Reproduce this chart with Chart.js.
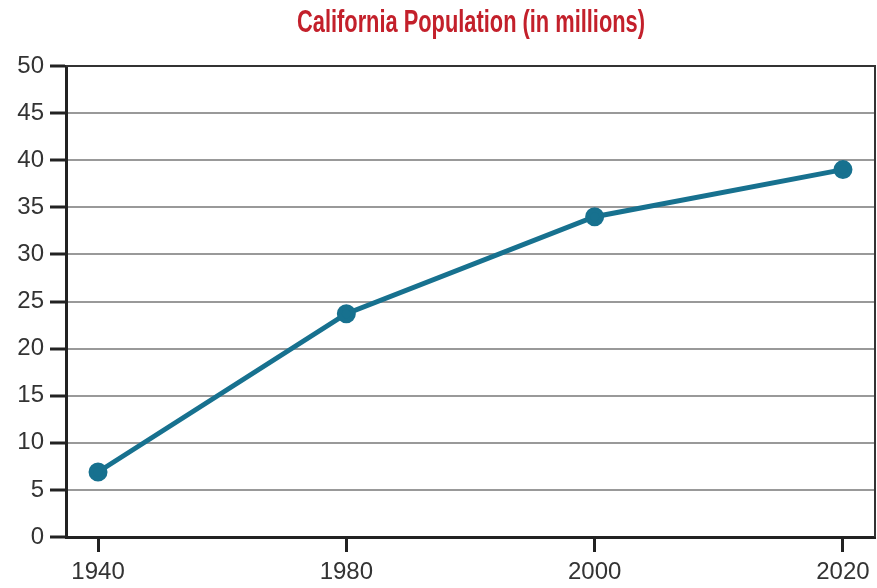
<!DOCTYPE html>
<html>
<head>
<meta charset="utf-8">
<script src="https://cdn.jsdelivr.net/npm/chart.js@4.4.1/dist/chart.umd.min.js"></script>
<style>
  html, body { margin: 0; padding: 0; background: #fff; overflow: hidden; }
  #wrap { width: 877px; height: 588px; }
  canvas { display: block; }
</style>
</head>
<body>
<div id="wrap"><canvas id="pop-chart" width="877" height="588"></canvas></div>
<script>
// California population by census year, in millions
const years = ['1940', '1980', '2000', '2020'];
const population = [6.9, 23.7, 34.0, 39.0];
const yTicks = [0, 5, 10, 15, 20, 25, 30, 35, 40, 45, 50];
const titleText = 'California Population (in millions)';

const lineColor = '#17718f';
const axisColor = '#222';

// condensed red heading drawn above the plot
const titlePlugin = {
    id: 'narrowTitle',
    afterDraw(chart) {
        const ctx = chart.ctx;
        ctx.save();
        ctx.fillStyle = '#c3202b';
        ctx.font = 'bold 31px "Liberation Sans Narrow", "Liberation Sans", sans-serif';
        ctx.textAlign = 'center';
        ctx.textBaseline = 'middle';
        ctx.fillText(titleText, 471, 23, 348);
        ctx.restore();
    }
};

// dark frame around the plotting area
const framePlugin = {
    id: 'frame',
    afterDatasetsDraw(chart) {
        const a = chart.chartArea;
        const ctx = chart.ctx;
        ctx.save();
        ctx.strokeStyle = '#333';
        ctx.lineWidth = 2;
        ctx.beginPath();
        ctx.moveTo(a.left, a.top);
        ctx.lineTo(a.right, a.top);
        ctx.lineTo(a.right, a.bottom);
        ctx.stroke();
        ctx.restore();
    }
};

new Chart(document.querySelector('#pop-chart').getContext('2d'), {
    type: 'line',
    data: {
        datasets: [{
            label: 'Population',
            data: population.map((v, i) => ({ x: i, y: v })),
            borderColor: lineColor,
            backgroundColor: lineColor,
            borderWidth: 5,
            pointRadius: 7,
            pointHoverRadius: 7,
            tension: 0,
            clip: false
        }]
    },
    options: {
        responsive: false,
        animation: false,
        layout: { autoPadding: false, padding: { top: 66, right: 2, left: 0, bottom: 0 } },
        plugins: {
            legend: { display: false },
            title: { display: false },
            tooltip: { enabled: false }
        },
        scales: {
            x: {
                type: 'linear',
                min: -0.129,
                max: 3.129,
                afterBuildTicks: axis => { axis.ticks = years.map((y, i) => ({ value: i })); },
                afterFit: axis => {
                    axis.height = 51;
                    axis.paddingLeft = 0;
                    axis.paddingRight = 0;
                },
                ticks: {
                    callback: v => years[v],
                    color: '#333',
                    font: { family: 'Liberation Sans', size: 24 },
                    padding: 6,
                    maxRotation: 0
                },
                grid: {
                    drawOnChartArea: false,
                    tickLength: 15,
                    tickColor: axisColor,
                    tickWidth: 3
                },
                border: { color: axisColor, width: 3 }
            },
            y: {
                min: 0,
                max: 50,
                afterBuildTicks: axis => { axis.ticks = yTicks.map(v => ({ value: v })); },
                afterFit: axis => {
                    axis.width = 66;
                    axis.paddingTop = 0;
                    axis.paddingBottom = 0;
                },
                ticks: {
                    color: '#333',
                    font: { family: 'Liberation Sans', size: 24 },
                    padding: 6
                },
                grid: {
                    color: '#999',
                    lineWidth: 2,
                    tickLength: 16,
                    tickColor: axisColor,
                    tickWidth: 3
                },
                border: { color: axisColor, width: 3 }
            }
        }
    },
    plugins: [titlePlugin, framePlugin]
});
</script>
</body>
</html>
